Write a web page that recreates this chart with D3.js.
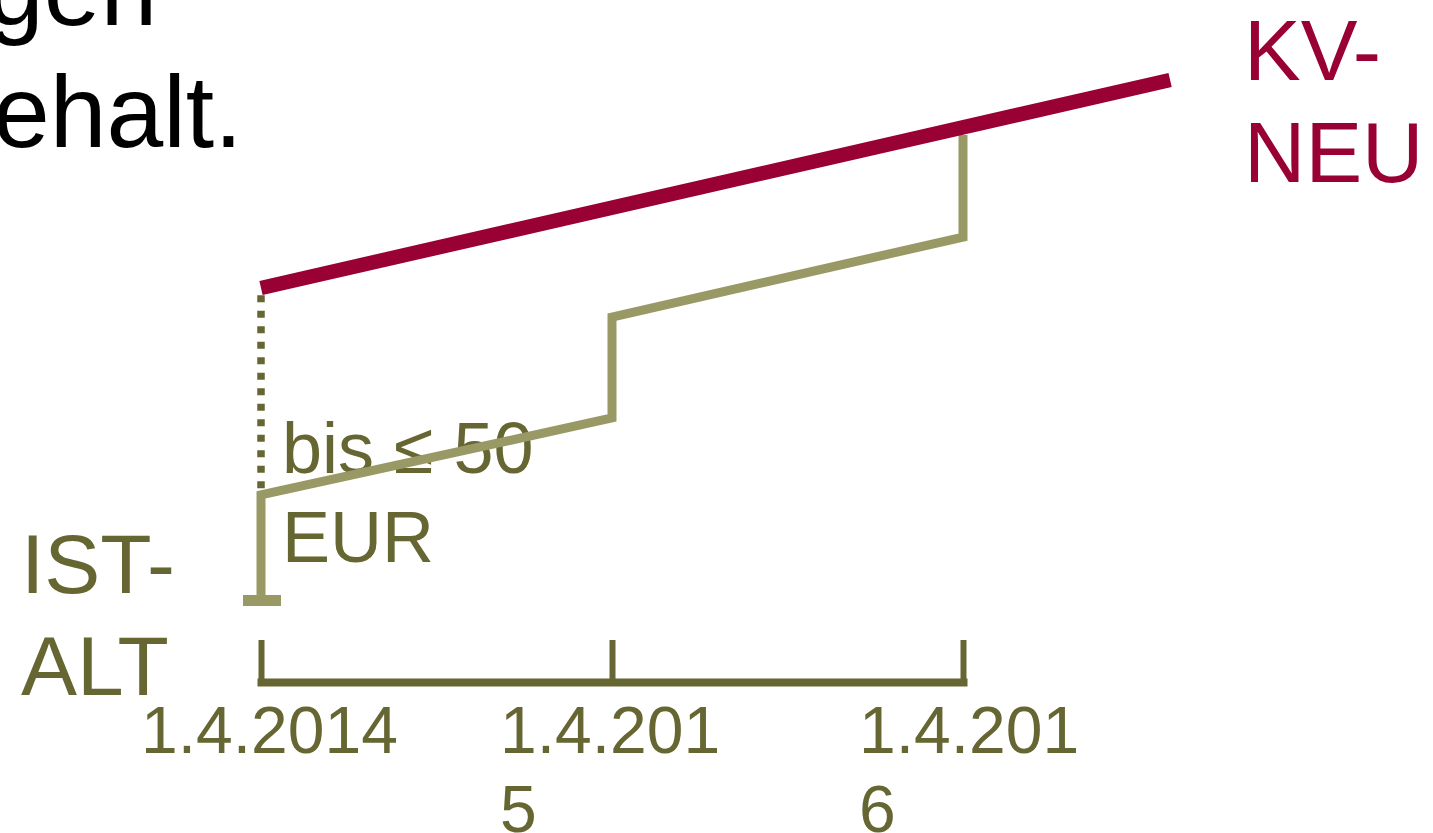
<!DOCTYPE html>
<html>
<head>
<meta charset="utf-8">
<script src="https://cdn.jsdelivr.net/npm/d3@7"></script>
<style>
  body { margin: 0; background: #fff; }
  svg { display: block; font-family: Arial, "Liberation Sans", sans-serif; }
</style>
</head>
<body>
<div id="chart"></div>
<script>
// dates as years, salary as relative level (0 = IST-ALT start)
var tickYears = [2014, 2015, 2016];
var tickLabels = [["1.4.2014"], ["1.4.201", "5"], ["1.4.201", "6"]];
var kvNeu = [{x: 2014, y: 60}, {x: 2016.59, y: 100}];
var istAlt = [
  {x: 2014, y: 0}, {x: 2014, y: 20.2},
  {x: 2015, y: 35.0}, {x: 2015, y: 54.4},
  {x: 2016, y: 69.8}, {x: 2016, y: 89.4}
];
var gap = [{x: 2014, y: 58.6}, {x: 2014, y: 20.2}];

var dark = "#666633", light = "#999966", red = "#990033";
var width = 1433, height = 833;

var svg = d3.select("#chart").append("svg")
    .attr("width", width)
    .attr("height", height);

var x = d3.scaleLinear().domain([2014, 2016]).range([261, 963]);
var y = d3.scaleLinear().domain([0, 100]).range([600, 80]);

// cut off text from the slide above
svg.append("text").attr("x", -13).attr("y", 25)
    .attr("font-size", 102).attr("fill", "#000").text("gen");
svg.append("text").attr("x", -7).attr("y", 147)
    .attr("font-size", 102).attr("fill", "#000").text("ehalt.");

// labels
svg.append("text").attr("x", 1244).attr("font-size", 85).attr("fill", red)
    .selectAll("tspan").data(["KV-", "NEU"]).enter().append("tspan")
    .attr("x", 1244).attr("y", function(d, i) { return 80 + i * 102; })
    .text(function(d) { return d; });

svg.append("text").attr("font-size", 84).attr("fill", dark)
    .selectAll("tspan").data(["IST-", "ALT"]).enter().append("tspan")
    .attr("x", 21).attr("y", function(d, i) { return 593 + i * 102; })
    .text(function(d) { return d; });

svg.append("text").attr("font-size", 72).attr("fill", dark)
    .selectAll("tspan").data(["bis \u2264 50", "EUR"]).enter().append("tspan")
    .attr("x", 282).attr("y", function(d, i) { return 473 + i * 89; })
    .text(function(d) { return d; });

// axis
var axis = svg.append("g")
    .attr("transform", "translate(0,682)")
    .call(d3.axisBottom(x).tickValues(tickYears).tickSize(-42).tickSizeOuter(0).tickFormat(""));
axis.select(".domain").attr("stroke", dark).attr("stroke-width", 8).attr("stroke-linecap", "square");
axis.selectAll(".tick line").attr("stroke", dark).attr("stroke-width", 6);

// label boxes sit a little further right for later ticks
svg.append("g").selectAll("text")
    .data(tickYears).enter().append("text")
    .attr("font-size", 66).attr("fill", dark)
    .each(function(d, i) {
        d3.select(this).selectAll("tspan")
            .data(tickLabels[i]).enter().append("tspan")
            .attr("x", x(d) - 120 + i * 8)
            .attr("y", function(t, j) { return 753 + j * 79; })
            .text(function(t) { return t; });
    });

var line = d3.line().x(function(d) { return x(d.x); }).y(function(d) { return y(d.y); });

// dotted gap
svg.append("path").datum(gap)
    .attr("d", line)
    .attr("fill", "none").attr("stroke", dark)
    .attr("stroke-width", 7.5).attr("stroke-dasharray", "7,8.5");

// IST-ALT steps
svg.append("path").datum(istAlt)
    .attr("d", line)
    .attr("fill", "none").attr("stroke", light)
    .attr("stroke-width", 9).attr("stroke-linejoin", "miter");

// flat end cap at the start
svg.append("rect")
    .attr("x", x(istAlt[0].x) - 18).attr("y", y(istAlt[0].y) - 5)
    .attr("width", 38).attr("height", 11)
    .attr("fill", light);

// KV-NEU
svg.append("path").datum(kvNeu)
    .attr("d", line)
    .attr("fill", "none").attr("stroke", red)
    .attr("stroke-width", 14.5);
</script>
</body>
</html>
